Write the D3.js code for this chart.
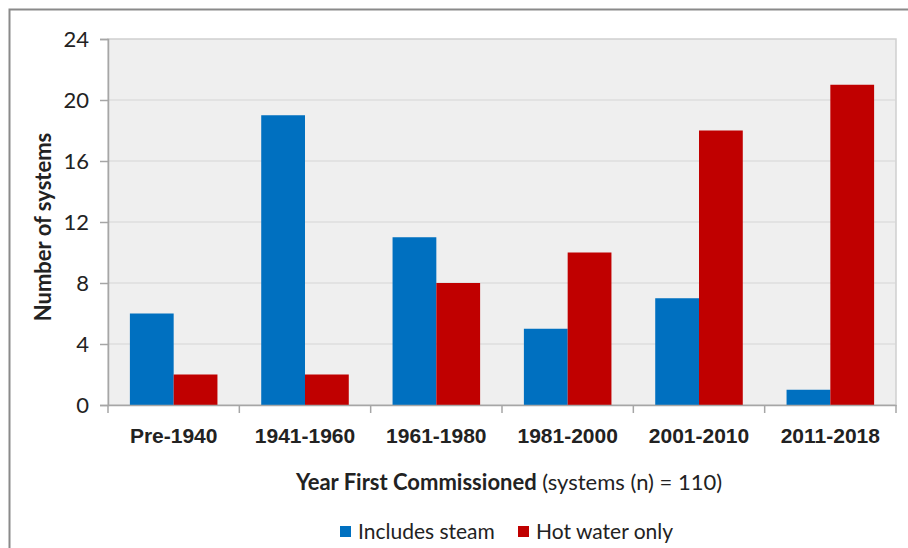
<!DOCTYPE html>
<html>
<head>
<meta charset="utf-8">
<script src="https://cdn.jsdelivr.net/npm/d3@7"></script>
<style>
  html, body { margin: 0; padding: 0; background: #fff; }
  svg { display: block; font-family: Lato, "Open Sans", sans-serif; }
</style>
</head>
<body>
<svg id="chart" width="908" height="548"></svg>
<script>
// Systems by period first commissioned
const categories = ["Pre-1940", "1941-1960", "1961-1980", "1981-2000", "2001-2010", "2011-2018"];
const seriesNames = ["Includes steam", "Hot water only"];
const includesSteam = [6, 19, 11, 5, 7, 1];
const hotWaterOnly = [2, 2, 8, 10, 18, 21];
const yTicks = [0, 4, 8, 12, 16, 20, 24];
const colors = ["#0070c0", "#c00000"];

const svg = d3.select("#chart");
const plot = { left: 108, top: 39, right: 896, bottom: 405 };

// Outer frame (top and left edges visible)
svg.append("path")
  .attr("d", "M9.5,548 V9.5 H908")
  .attr("fill", "none").attr("stroke", "#8a8a8a").attr("stroke-width", 2);

const x = d3.scaleBand().domain(categories).range([plot.left, plot.right]).paddingInner(0).paddingOuter(0);
const xInner = d3.scaleBand().domain(seriesNames).range([0, x.bandwidth()]).paddingInner(0).paddingOuter(0.5);
const y = d3.scaleLinear().domain([0, 24]).range([plot.bottom, plot.top]);

// Plot background
svg.append("rect")
  .attr("x", plot.left).attr("y", plot.top)
  .attr("width", plot.right - plot.left).attr("height", plot.bottom - plot.top)
  .attr("fill", "#efefef").attr("stroke", "#cfcfcf").attr("stroke-width", 1.5);

// Gridlines
svg.append("g").selectAll("line").data(yTicks.filter(d => d > 0 && d < 24)).join("line")
  .attr("x1", plot.left).attr("x2", plot.right)
  .attr("y1", d => y(d)).attr("y2", d => y(d))
  .attr("stroke", "#d6d6d6").attr("stroke-width", 1.2);

// Bars
const rows = categories.map((c, i) => ({ cat: c, values: [includesSteam[i], hotWaterOnly[i]] }));
const groups = svg.append("g").selectAll("g").data(rows).join("g")
  .attr("transform", d => `translate(${x(d.cat)},0)`);
groups.selectAll("rect").data(d => d.values.map((v, j) => ({ name: seriesNames[j], v, j }))).join("rect")
  .attr("x", d => xInner(d.name))
  .attr("width", xInner.bandwidth())
  .attr("y", d => y(d.v))
  .attr("height", d => y(0) - y(d.v))
  .attr("fill", d => colors[d.j]);

// Y axis
const yAxis = svg.append("g").attr("transform", `translate(${plot.left},0)`)
  .call(d3.axisLeft(y).tickValues(yTicks).tickSize(8).tickPadding(11).tickFormat(d3.format("d")));
yAxis.select(".domain").attr("stroke", "#a6a6a6").attr("stroke-width", 1.5);
yAxis.selectAll(".tick line").attr("stroke", "#a6a6a6").attr("stroke-width", 1.5);
yAxis.selectAll(".tick text").attr("font-size", 22).attr("fill", "#222").attr("font-family", "Lato, sans-serif");

// X axis
const xAxis = svg.append("g").attr("transform", `translate(0,${plot.bottom})`)
  .call(d3.axisBottom(x).tickSize(0).tickPadding(23));
xAxis.select(".domain").attr("stroke", "#a6a6a6").attr("stroke-width", 1.5);
xAxis.selectAll(".tick text").attr("font-size", 21).attr("font-weight", "bold").attr("fill", "#222");
// Category boundary ticks
svg.append("g").selectAll("line").data(categories.concat([null])).join("line")
  .attr("x1", (d, i) => plot.left + i * x.bandwidth())
  .attr("x2", (d, i) => plot.left + i * x.bandwidth())
  .attr("y1", plot.bottom).attr("y2", plot.bottom + 8)
  .attr("stroke", "#a6a6a6").attr("stroke-width", 1.5);

// Axis titles
svg.append("text")
  .attr("transform", "translate(51,227) rotate(-90)")
  .attr("text-anchor", "middle").attr("font-size", 22).attr("font-weight", "bold").attr("fill", "#222")
  .text("Number of systems");

const xt = svg.append("text")
  .attr("x", 509).attr("y", 490).attr("text-anchor", "middle").attr("font-size", 22).attr("fill", "#222");
xt.append("tspan").attr("font-weight", "bold").text("Year First Commissioned");
xt.append("tspan").text(" (systems (n) = 110)");

// Legend
const legend = svg.append("g").attr("transform", "translate(340,0)");
const legendX = [0, 178];
seriesNames.forEach((name, i) => {
  legend.append("rect").attr("x", legendX[i]).attr("y", 526).attr("width", 11).attr("height", 11).attr("fill", colors[i]);
  legend.append("text").attr("x", legendX[i] + 18).attr("y", 539).attr("font-size", 21).attr("fill", "#222").text(name);
});
</script>
</body>
</html>
